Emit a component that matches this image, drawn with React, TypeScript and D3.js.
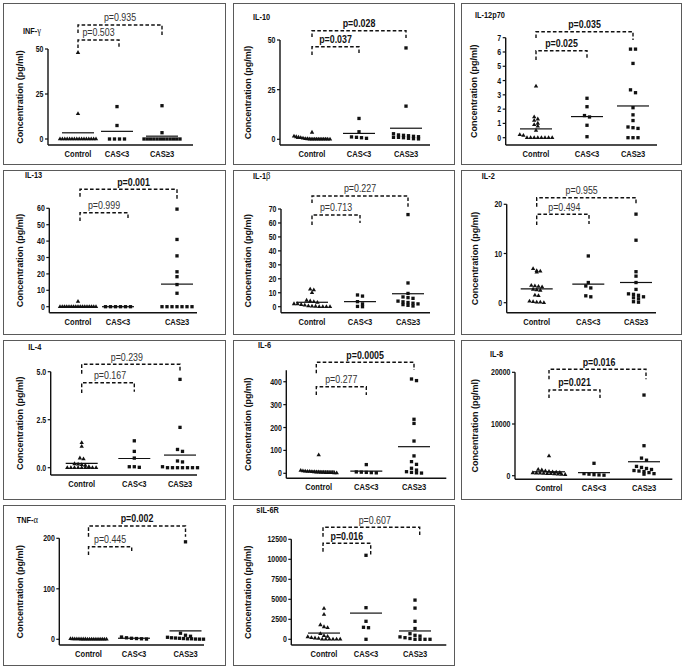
import React from "react";
import * as d3 from "d3";

const groups = ["Control", "CAS<3", "CAS≥3"];
const titles = ["INF-γ", "IL-10", "IL-12p70", "IL-13", "IL-1β", "IL-2", "IL-4", "IL-6", "IL-8", "TNF-α", "sIL-6R"];

// ---- data (pg/ml) ----
const infCtrl = [48, 14, 0, 0, 0, 0, 0, 0, 0, 0, 0, 0, 0, 0, 0, 0, 0, 0];
const infLow = [18, 7.5, 0, 0, 0, 0];
const infHigh = [18.5, 3.5, 0, 0, 0, 0, 0, 0, 0, 0, 0, 0, 0, 0];

const il10Ctrl = [3.5, 1.5, 1.2, 1.0, 0.8, 0.5, 0.3, 0.2, 0.1, 0, 0, 0, 0, 0, 0, 0, 0, 0];
const il10Low = [10.5, 3.8, 1.2, 1.0, 0.8, 0.5];
const il10High = [46, 16.7, 2.8, 2.2, 2, 1.8, 1.5, 1.3, 1, 1, 0.8, 0.5, 0.3, 0.2];

const il12Ctrl = [3.6, 1.45, 1.3, 1.2, 1.0, 0.9, 0.8, 0.5, 0.2, 0.15, 0, 0, 0, 0, 0, 0, 0, 0];
const il12Low = [2.76, 2.17, 1.55, 1.45, 0.87, 0.07];
const il12High = [6.2, 6.2, 5.2, 3.35, 3.15, 2.1, 1.6, 1.2, 0.75, 0.7, 0.65, 0, 0, 0];

const il13Ctrl = [3.2, 0, 0, 0, 0, 0, 0, 0, 0, 0, 0, 0, 0, 0, 0, 0, 0, 0];
const il13Low = [0, 0, 0, 0, 0, 0];
const il13High = [59.5, 41, 31, 21.3, 18.3, 13.5, 8.2, 0, 0, 0, 0, 0, 0, 0];

const il1bCtrl = [12.5, 12, 10, 4.5, 4, 3.5, 3, 2, 2, 1.5, 1, 0.5, 0.3, 0.2, 0, 0, 0, 0];
const il1bLow = [8.4, 7.6, 3.6, 2.0, 0.2, 0];
const il1bHigh = [66, 17, 9.5, 7, 6.5, 6, 4, 3.5, 3, 2.5, 2, 1.5, 1, 0.5];

const il2Ctrl = [6.9, 6.5, 6.4, 6.2, 3.5, 3.4, 3.3, 3.2, 2.7, 2.6, 2.5, 1.5, 1.4, 0.3, 0.2, 0.1, 0.1, 0];
const il2Low = [9.5, 4.1, 3.4, 3.0, 1.4, 1.2];
const il2High = [18, 12.7, 6.3, 5.4, 4.1, 2.7, 1.8, 1.7, 1.5, 1.2, 1.0, 0.8, 0.2, 0.1];

const il4Ctrl = [1.3, 1.1, 0.5, 0.45, 0.2, 0.18, 0.15, 0.12, 0.05, 0, 0, 0, 0, 0, 0, 0, 0, 0];
const il4Low = [1.4, 0.85, 0.5, 0.05, 0.05, 0.02];
const il4High = [4.6, 2.1, 0.95, 0.85, 0.35, 0.3, 0.05, 0, 0, 0, 0, 0, 0, 0];

const il6Ctrl = [80, 12, 10, 9, 8, 8, 7, 6, 5, 5, 4, 4, 3, 3, 2, 2, 1, 1];
const il6Low = [38, 6, 5, 4, 3, 2];
const il6High = [412, 405, 236, 218, 141, 76, 51, 39, 22, 14, 7, 4, 2, 1];

const il8Ctrl = [3800, 1200, 1100, 900, 800, 700, 650, 600, 550, 500, 500, 450, 400, 400, 350, 300, 250, 200];
const il8Low = [2400, 400, 300, 200, 150, 100];
const il8High = [15600, 5800, 3400, 3000, 1800, 1600, 1400, 1200, 1000, 900, 800, 600, 400, 300];

const tnfCtrl = [1.0, 0.8, 0.6, 0.5, 0.5, 0.4, 0.3, 0.3, 0.2, 0.2, 0.1, 0.1, 0, 0, 0, 0, 0, 0];
const tnfLow = [4.5, 3, 2, 1.5, 1, 0.5];
const tnfHigh = [193, 12, 8, 6, 4, 3, 2.5, 2, 1.5, 1, 1, 0.5, 0.3, 0.2];

const sil6rCtrl = [3850, 3100, 1800, 1550, 1450, 700, 450, 350, 300, 200, 150, 100, 0, 0, 0, 0, 0, 0];
const sil6rLow = [10500, 3950, 2250, 1500, 1450, 0];
const sil6rHigh = [4900, 3900, 2250, 1350, 700, 500, 400, 300, 200, 100, 0, 0, 0, 0];

// ---- tick labels ----
const ticksINF = ["0", "25", "50"];
const ticksIL10 = ["0", "25", "50"];
const ticksIL12 = ["0", "1", "2", "3", "4", "5", "6", "7"];
const ticksIL13 = ["0", "10", "20", "30", "40", "50", "60"];
const ticksIL1b = ["0", "10", "20", "30", "40", "50", "60", "70"];
const ticksIL2 = ["0", "10", "20"];
const ticksIL4 = ["0.0", "2.5", "5.0"];
const ticksIL6 = ["0", "100", "200", "300", "400"];
const ticksIL8 = ["0", "10000", "20000"];
const ticksTNF = ["0", "100", "200"];
const ticksSIL6R = ["0", "2500", "5000", "7500", "10000", "12500"];

// ---- p values (inner: Control vs CAS<3, outer: Control vs CAS≥3) ----
const pInner = ["0.503", "0.037", "0.025", "0.999", "0.713", "0.494", "0.167", "0.277", "0.021", "0.445", "0.016"];
const pOuter = ["0.935", "0.028", "0.035", "0.001", "0.227", "0.955", "0.239", "0.0005", "0.016", "0.002", "0.607"];

const panelData = [
  [infCtrl, infLow, infHigh],
  [il10Ctrl, il10Low, il10High],
  [il12Ctrl, il12Low, il12High],
  [il13Ctrl, il13Low, il13High],
  [il1bCtrl, il1bLow, il1bHigh],
  [il2Ctrl, il2Low, il2High],
  [il4Ctrl, il4Low, il4High],
  [il6Ctrl, il6Low, il6High],
  [il8Ctrl, il8Low, il8High],
  [tnfCtrl, tnfLow, tnfHigh],
  [sil6rCtrl, sil6rLow, sil6rHigh],
];
const panelTicks = [ticksINF, ticksIL10, ticksIL12, ticksIL13, ticksIL1b, ticksIL2, ticksIL4, ticksIL6, ticksIL8, ticksTNF, ticksSIL6R];
const yMaxes = [50, 50, 7, 60, 70, 20, 5, 450, 20000, 200, 12500];

// ---- layout (pixels, relative to each panel box) ----
const colX = [3, 233, 461];
const colW = [222, 221, 220];
const rowY = [3, 170, 340, 505];
const rowH = [161, 164, 159, 160];

type Br = { y: number; l: number; r: number; dx1?: number; dx2?: number; tdx?: number };
type Lay = {
  col: number; row: number; ax: number; y0: number; yTop: number; xAxisY: number; xEnd: number;
  cats: number[]; tx: number; ty: number; yl: number; outer: Br; inner: Br;
};
const layouts: Lay[] = [
  { col: 0, row: 0, ax: 45, y0: 136, yTop: 46, xAxisY: 142, xEnd: 190, cats: [75, 114, 159], tx: 20, ty: 30.5, yl: 17.4,
    outer: { y: 22, l: 8, r: 10 }, inner: { y: 37, l: 8, r: 7, dx2: 2 } },
  { col: 1, row: 0, ax: 47, y0: 136.3, yTop: 37, xAxisY: 142, xEnd: 197, cats: [79, 126, 173], tx: 20, ty: 17, yl: 15.4,
    outer: { y: 27.7, l: 6.3, r: 7.3 }, inner: { y: 43.7, l: 8.3, r: 8.3 } },
  { col: 2, row: 0, ax: 44.7, y0: 134.7, yTop: 34.7, xAxisY: 142, xEnd: 196, cats: [75, 126, 172], tx: 14, ty: 14.5, yl: 13.2,
    outer: { y: 28.7, l: 6.3, r: 8.3 }, inner: { y: 47.7, l: 9.3, r: 8.3 } },
  { col: 0, row: 1, ax: 46.3, y0: 136.7, yTop: 38.3, xAxisY: 142.7, xEnd: 194, cats: [75, 115, 174], tx: 22, ty: 8.3, yl: 17.4,
    outer: { y: 19.3, l: 7.4, r: 10.7, dx1: 2, tdx: 5 }, inner: { y: 42.7, l: 8.3, r: 7.3, dx1: 2, dx2: 10 } },
  { col: 1, row: 1, ax: 48, y0: 136.7, yTop: 39, xAxisY: 142.7, xEnd: 197, cats: [79, 127, 175], tx: 20, ty: 9, yl: 15.4,
    outer: { y: 26, l: 7, r: 11 }, inner: { y: 45, l: 10, r: 8 } },
  { col: 2, row: 1, ax: 45.7, y0: 132.7, yTop: 34.3, xAxisY: 142.7, xEnd: 195, cats: [75.7, 127.3, 175], tx: 20.7, ty: 8.5, yl: 14.4,
    outer: { y: 27.7, l: 9, r: 7.3, tdx: -4.7 }, inner: { y: 44.3, l: 10.7, r: 9.7, dx2: 0.7, tdx: 1.5 } },
  { col: 0, row: 2, ax: 47.7, y0: 127.7, yTop: 31.7, xAxisY: 135, xEnd: 194, cats: [78.7, 131.3, 177], tx: 25.3, ty: 10, yl: 17.4,
    outer: { y: 24.3, l: 9.4, r: 7.4, tdx: -4 }, inner: { y: 42.7, l: 10.3, r: 9, tdx: 2 } },
  { col: 1, row: 2, ax: 53.3, y0: 133.3, yTop: 30.3, xAxisY: 138.3, xEnd: 213.3, cats: [85.7, 133.3, 181], tx: 25, ty: 8.3, yl: 15.4,
    outer: { y: 22.3, l: 11, r: 7.7, dx1: -2.4 }, inner: { y: 46.7, l: 8.3, r: 8.3, dx1: -2.4 } },
  { col: 2, row: 2, ax: 54, y0: 135.7, yTop: 32.3, xAxisY: 139.3, xEnd: 211.3, cats: [88, 133, 183], tx: 29, ty: 16.7, yl: 14.4,
    outer: { y: 29.3, l: 10, r: 10, dx2: 2, tdx: 1.5 }, inner: { y: 50, l: 8, r: 8, dx2: 6 } },
  { col: 0, row: 3, ax: 56.3, y0: 134.3, yTop: 33.3, xAxisY: 140, xEnd: 201, cats: [85.5, 131, 182.5], tx: 13.7, ty: 18.3, yl: 17.4,
    outer: { y: 21, l: 10.7, r: 10.7 }, inner: { y: 41.7, l: 8.3, r: 6.3, dx2: -2.3 } },
  { col: 1, row: 3, ax: 58.3, y0: 134.3, yTop: 34.3, xAxisY: 140, xEnd: 213.3, cats: [91, 133, 182], tx: 23.3, ty: 8.3, yl: 15.4,
    outer: { y: 22.3, l: 9.4, r: 7.7, dx1: -1, dx2: 4.7, tdx: 3.4 }, inner: { y: 38.3, l: 8.4, r: 13.4, dx1: -1, dx2: 4.7 } },
];

const FONT = "'Liberation Sans', Arial, Helvetica, sans-serif";
const SQ = 0.82;
const INK = "#111";

function SText(props: { x: number; y: number; anchor?: string; size: number; weight?: string; fill?: string; children: any }) {
  const { x, y, anchor = "start", size, weight = "bold", fill = INK, children } = props;
  return (
    <text transform={`translate(${x},${y}) scale(${SQ},1)`} textAnchor={anchor as any} fontSize={size}
      fontWeight={weight} fill={fill} fontFamily={FONT}>{children}</text>
  );
}

function swarm(values: number[], y: (v: number) => number, spacing: number, maxHalf: number) {
  const pts = values.map((v) => ({ v, py: y(v), dx: 0 })).sort((a, b) => a.py - b.py);
  const bins: typeof pts[] = [];
  pts.forEach((p) => {
    const last = bins[bins.length - 1];
    if (!last || p.py - last[0].py > 3.2) bins.push([p]);
    else last.push(p);
  });
  bins.forEach((b) => {
    const n = b.length;
    const s = n > 1 ? Math.min(spacing, (2 * maxHalf) / (n - 1)) : 0;
    b.forEach((p, i) => { p.dx = (i - (n - 1) / 2) * s; });
  });
  return pts;
}

const triPath = d3.symbol().type(d3.symbolTriangle).size(8.5)() as string;
const sqPath = d3.symbol().type(d3.symbolSquare).size(11)() as string;

function Title({ x, y, text }: { x: number; y: number; text: string }) {
  const m = text.match(/^(.*?)([α-ω])$/);
  return (
    <text transform={`translate(${x},${y}) scale(${SQ},1)`} fontSize={9} fontWeight="bold" fill={INK} fontFamily={FONT}>
      {m ? m[1] : text}
      {m ? <tspan fontFamily="'Liberation Serif', 'DejaVu Serif', serif" fontWeight="normal" fontSize={10.5}>{m[2]}</tspan> : null}
    </text>
  );
}

function Bracket({ b, x1, x2, p }: { b: Br; x1: number; x2: number; p: string }) {
  const a = x1 + (b.dx1 || 0);
  const c = x2 + (b.dx2 || 0);
  const sig = parseFloat(p) < 0.05;
  return (
    <g>
      <path d={`M${a},${b.y + b.l}V${b.y}H${c}V${b.y + b.r}`} fill="none" stroke={INK} strokeWidth={1.4} strokeDasharray="3.6,2.2" />
      <SText x={(a + c) / 2 + (b.tdx || 0)} y={b.y - 3.6} anchor="middle" size={10.8}
        weight={sig ? "bold" : "normal"} fill={sig ? INK : "#333"}>{`p=${p}`}</SText>
    </g>
  );
}

function Panel({ i }: { i: number }) {
  const L = layouts[i];
  const ox = colX[L.col], oy = rowY[L.row];
  const w = colW[L.col], h = rowH[L.row];
  const y = d3.scaleLinear().domain([0, yMaxes[i]]).range([L.y0, L.yTop]);
  const x = d3.scaleOrdinal<string, number>().domain(groups).range(L.cats);
  const ticks = panelTicks[i];
  return (
    <g transform={`translate(${ox},${oy})`}>
      <rect x={0.5} y={0.5} width={w} height={h} fill="#fff" stroke="#5a5a5a" strokeWidth={1} />
      <Title x={L.tx} y={L.ty} text={titles[i]} />
      <line x1={L.ax} x2={L.ax} y1={L.xAxisY} y2={L.yTop} stroke={INK} strokeWidth={1.4} />
      <line x1={L.ax} x2={L.xEnd} y1={L.xAxisY} y2={L.xAxisY} stroke={INK} strokeWidth={1.4} />
      {ticks.map((t) => {
        const ty = y(parseFloat(t));
        return (
          <g key={t}>
            <line x1={L.ax - 3} x2={L.ax} y1={ty} y2={ty} stroke={INK} strokeWidth={1.2} />
            <SText x={L.ax - 4.5} y={ty + 3} anchor="end" size={8.5}>{t}</SText>
          </g>
        );
      })}
      <text transform={`translate(${L.yl + 2.5},${(L.yTop + L.xAxisY) / 2}) rotate(-90)`} textAnchor="middle"
        fontSize={9} fontWeight="bold" fill={INK} fontFamily={FONT}>Concentration (pg/ml)</text>
      {groups.map((g) => (
        <SText key={g} x={x(g)} y={L.xAxisY + 12} anchor="middle" size={9.2}>{g}</SText>
      ))}
      {panelData[i].map((vals, k) => {
        const cx = x(groups[k]);
        const pts = swarm(vals, y, k === 0 ? 3.6 : 5, 18);
        const mean = d3.mean(vals) as number;
        return (
          <g key={k}>
            {pts.map((p, j) => (
              <path key={j} d={k === 0 ? triPath : sqPath} transform={`translate(${cx + p.dx},${p.py})`} fill={INK} />
            ))}
            <line x1={cx - 16} x2={cx + 16} y1={y(mean)} y2={y(mean)} stroke={INK} strokeWidth={1.2} />
          </g>
        );
      })}
      <Bracket b={L.outer} x1={x(groups[0])} x2={x(groups[2])} p={pOuter[i]} />
      <Bracket b={L.inner} x1={x(groups[0])} x2={x(groups[1])} p={pInner[i]} />
    </g>
  );
}

export default function App() {
  return (
    <svg width={685} height={669} viewBox="0 0 685 669" style={{ position: "absolute", left: 0, top: 0, background: "#fff" }}>
      <rect x={0} y={0} width={685} height={669} fill="#fff" />
      {titles.map((_, i) => <Panel key={i} i={i} />)}
    </svg>
  );
}
